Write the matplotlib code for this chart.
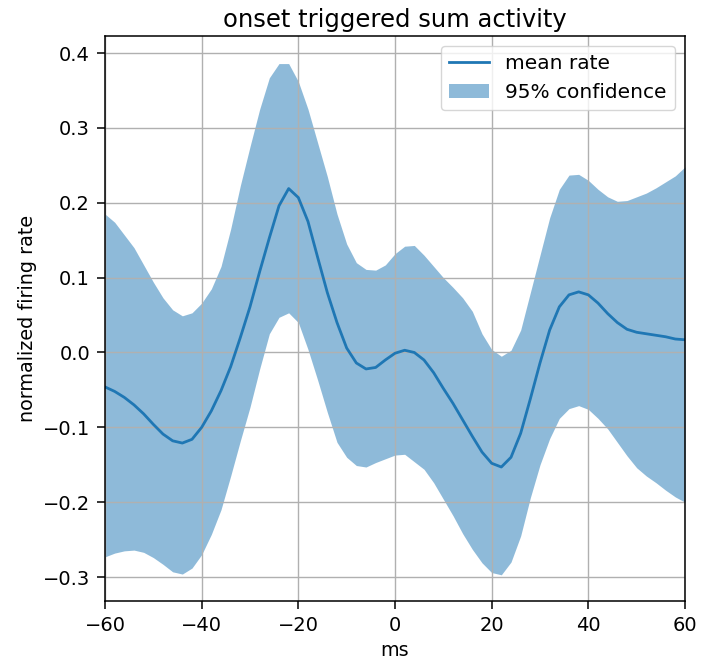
import matplotlib
matplotlib.use("Agg")
import matplotlib.pyplot as plt
import numpy as np

# time axis (ms)
t_ms = [-60, -58, -56, -54, -52, -50, -48, -46, -44, -42, -40, -38, -36, -34, -32, -30,
        -28, -26, -24, -22, -20, -18, -16, -14, -12, -10, -8, -6, -4, -2, 0,
        2, 4, 6, 8, 10, 12, 14, 16, 18, 20, 22, 24, 26, 28, 30,
        32, 34, 36, 38, 40, 42, 44, 46, 48, 50, 52, 54, 56, 58, 60]

mean_rate = [-0.046, -0.052, -0.060, -0.070, -0.082, -0.096, -0.109, -0.118, -0.121, -0.116,
             -0.100, -0.078, -0.051, -0.019, 0.020, 0.061, 0.108, 0.153, 0.196, 0.219,
             0.207, 0.175, 0.127, 0.080, 0.040, 0.006, -0.014, -0.022, -0.020, -0.010,
             -0.001, 0.003, 0.000, -0.010, -0.027, -0.048, -0.068, -0.090, -0.112, -0.133,
             -0.148, -0.153, -0.140, -0.108, -0.062, -0.014, 0.030, 0.061, 0.077, 0.081,
             0.077, 0.066, 0.052, 0.040, 0.031, 0.027, 0.025, 0.023, 0.021, 0.018, 0.017]

upper_ci = [0.185, 0.174, 0.157, 0.140, 0.117, 0.094, 0.073, 0.057, 0.049, 0.053,
            0.066, 0.085, 0.115, 0.165, 0.223, 0.275, 0.325, 0.367, 0.386, 0.386,
            0.362, 0.325, 0.280, 0.235, 0.185, 0.145, 0.120, 0.111, 0.110, 0.117,
            0.132, 0.142, 0.143, 0.130, 0.115, 0.100, 0.087, 0.073, 0.055, 0.025,
            0.004, -0.005, 0.003, 0.030, 0.080, 0.130, 0.180, 0.218, 0.237, 0.238,
            0.230, 0.218, 0.208, 0.202, 0.203, 0.208, 0.213, 0.220, 0.228, 0.236, 0.248]

lower_ci = [-0.273, -0.268, -0.265, -0.264, -0.267, -0.274, -0.283, -0.293, -0.296, -0.288,
            -0.270, -0.243, -0.210, -0.165, -0.118, -0.073, -0.022, 0.025, 0.047, 0.053,
            0.040, 0.004, -0.037, -0.080, -0.120, -0.140, -0.151, -0.153, -0.147, -0.142,
            -0.137, -0.136, -0.146, -0.156, -0.174, -0.196, -0.218, -0.242, -0.263, -0.281,
            -0.294, -0.297, -0.280, -0.245, -0.194, -0.150, -0.115, -0.088, -0.075, -0.071,
            -0.076, -0.088, -0.102, -0.120, -0.138, -0.154, -0.165, -0.174, -0.184, -0.193, -0.200]

fig = plt.figure(figsize=(7.01, 6.69), dpi=100)
ax = fig.add_axes([105/701, 1 - 601/669, 580/701, (601 - 35.5)/669])

ax.fill_between(t_ms, lower_ci, upper_ci, color="#1f77b4", alpha=0.5, linewidth=0,
                label="95% confidence")
ax.plot(t_ms, mean_rate, color="#1f77b4", linewidth=2, label="mean rate")

ax.set_xlim(-60, 60)
ax.set_ylim(-0.332, 0.4235)
ax.set_xticks([-60, -40, -20, 0, 20, 40, 60])
ax.set_yticks([-0.3, -0.2, -0.1, 0.0, 0.1, 0.2, 0.3, 0.4])
ax.grid(True, color="#b0b0b0", linewidth=1)
ax.tick_params(labelsize=14, length=5.8, width=1.1, pad=5.0)
for s in ax.spines.values():
    s.set_linewidth(1.1)
ax.set_xlabel("ms", fontsize=13.75)
ax.set_ylabel("normalized firing rate", fontsize=13.75)
ax.set_title("onset triggered sum activity", fontsize=17.5)

handles, labels = ax.get_legend_handles_labels()
ax.legend(handles[::-1], labels[::-1], loc="upper right", fontsize=14.5)

fig.savefig("out.png", dpi=100)
